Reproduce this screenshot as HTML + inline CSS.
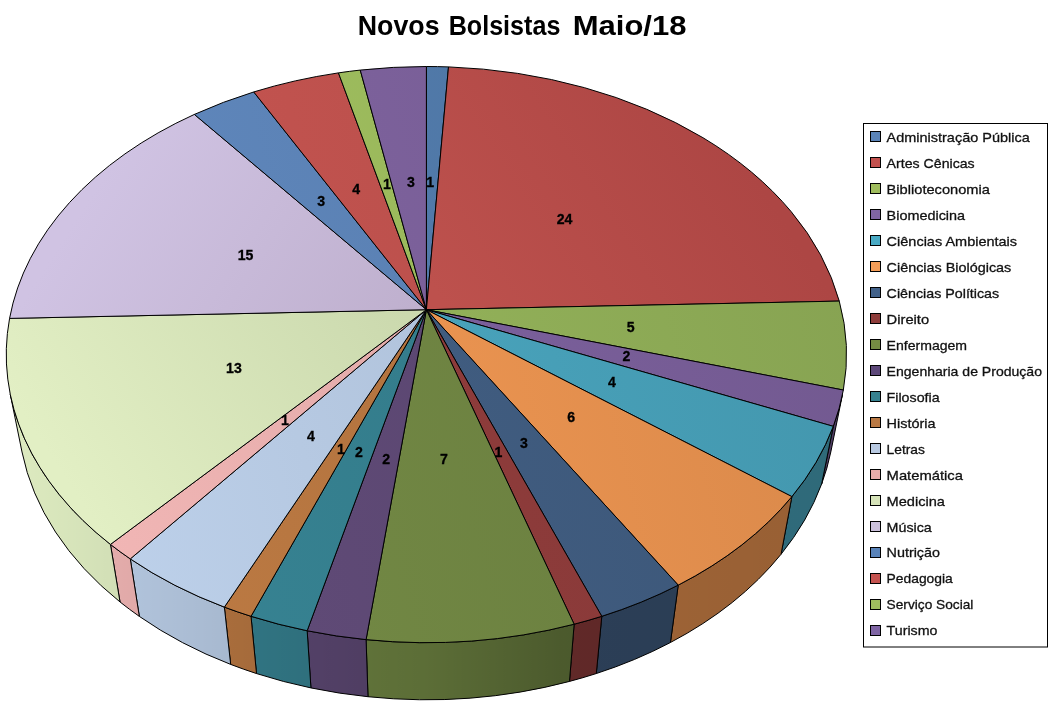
<!DOCTYPE html>
<html lang="pt-BR"><head><meta charset="utf-8"><title>Novos Bolsistas Maio/18</title>
<style>html,body{margin:0;padding:0;background:#fff}body{width:1051px;height:711px;position:relative;overflow:hidden}</style></head>
<body>
<svg width="1051" height="711" viewBox="0 0 1051 711" style="position:absolute;left:0;top:0">
<defs>
<linearGradient id="gs" gradientUnits="userSpaceOnUse" x1="7" y1="0" x2="847" y2="0">
<stop offset="0" stop-color="#000" stop-opacity="0.02"/><stop offset="0.23" stop-color="#000" stop-opacity="0.11"/><stop offset="0.5" stop-color="#000" stop-opacity="0.23"/><stop offset="0.66" stop-color="#000" stop-opacity="0.365"/><stop offset="1" stop-color="#000" stop-opacity="0.40"/>
</linearGradient>
</defs>
<defs><linearGradient id="s0" gradientUnits="userSpaceOnUse" x1="7" y1="460" x2="846" y2="250"><stop offset="0" stop-color="#5783B7"/><stop offset="1" stop-color="#4B719D"/></linearGradient>
<linearGradient id="s1" gradientUnits="userSpaceOnUse" x1="440" y1="300" x2="720" y2="120"><stop offset="0" stop-color="#BD514D"/><stop offset="1" stop-color="#AD4644"/></linearGradient>
<linearGradient id="s2" gradientUnits="userSpaceOnUse" x1="7" y1="460" x2="846" y2="250"><stop offset="0" stop-color="#9DBE5F"/><stop offset="1" stop-color="#87A352"/></linearGradient>
<linearGradient id="s3" gradientUnits="userSpaceOnUse" x1="7" y1="460" x2="846" y2="250"><stop offset="0" stop-color="#8467A8"/><stop offset="1" stop-color="#725990"/></linearGradient>
<linearGradient id="s4" gradientUnits="userSpaceOnUse" x1="7" y1="460" x2="846" y2="250"><stop offset="0" stop-color="#4EAFC9"/><stop offset="1" stop-color="#4396AD"/></linearGradient>
<linearGradient id="s5" gradientUnits="userSpaceOnUse" x1="7" y1="460" x2="846" y2="250"><stop offset="0" stop-color="#FB9E56"/><stop offset="1" stop-color="#D8884A"/></linearGradient>
<linearGradient id="s6" gradientUnits="userSpaceOnUse" x1="7" y1="460" x2="846" y2="250"><stop offset="0" stop-color="#456389"/><stop offset="1" stop-color="#3B5576"/></linearGradient>
<linearGradient id="s7" gradientUnits="userSpaceOnUse" x1="7" y1="460" x2="846" y2="250"><stop offset="0" stop-color="#98403F"/><stop offset="1" stop-color="#833736"/></linearGradient>
<linearGradient id="s8" gradientUnits="userSpaceOnUse" x1="7" y1="460" x2="846" y2="250"><stop offset="0" stop-color="#778E47"/><stop offset="1" stop-color="#667A3D"/></linearGradient>
<linearGradient id="s9" gradientUnits="userSpaceOnUse" x1="7" y1="460" x2="846" y2="250"><stop offset="0" stop-color="#634D7B"/><stop offset="1" stop-color="#55426A"/></linearGradient>
<linearGradient id="s10" gradientUnits="userSpaceOnUse" x1="7" y1="460" x2="846" y2="250"><stop offset="0" stop-color="#388696"/><stop offset="1" stop-color="#307381"/></linearGradient>
<linearGradient id="s11" gradientUnits="userSpaceOnUse" x1="7" y1="460" x2="846" y2="250"><stop offset="0" stop-color="#C07C44"/><stop offset="1" stop-color="#A56B3A"/></linearGradient>
<linearGradient id="s12" gradientUnits="userSpaceOnUse" x1="7" y1="460" x2="846" y2="250"><stop offset="0" stop-color="#BFD3ED"/><stop offset="1" stop-color="#A4B5CC"/></linearGradient>
<linearGradient id="s13" gradientUnits="userSpaceOnUse" x1="7" y1="460" x2="846" y2="250"><stop offset="0" stop-color="#F4B8B7"/><stop offset="1" stop-color="#D29E9D"/></linearGradient>
<linearGradient id="s14" gradientUnits="userSpaceOnUse" x1="96" y1="526" x2="410" y2="320"><stop offset="0" stop-color="#E2EFC4"/><stop offset="1" stop-color="#CBD9AE"/></linearGradient>
<linearGradient id="s15" gradientUnits="userSpaceOnUse" x1="120" y1="150" x2="400" y2="330"><stop offset="0" stop-color="#D0C3E3"/><stop offset="1" stop-color="#BFB0CE"/></linearGradient>
<linearGradient id="s16" gradientUnits="userSpaceOnUse" x1="7" y1="460" x2="846" y2="250"><stop offset="0" stop-color="#628BC2"/><stop offset="1" stop-color="#5478A7"/></linearGradient>
<linearGradient id="s17" gradientUnits="userSpaceOnUse" x1="7" y1="460" x2="846" y2="250"><stop offset="0" stop-color="#CC5753"/><stop offset="1" stop-color="#AF4B47"/></linearGradient>
<linearGradient id="s18" gradientUnits="userSpaceOnUse" x1="7" y1="460" x2="846" y2="250"><stop offset="0" stop-color="#A7C863"/><stop offset="1" stop-color="#90AC55"/></linearGradient>
<linearGradient id="s19" gradientUnits="userSpaceOnUse" x1="7" y1="460" x2="846" y2="250"><stop offset="0" stop-color="#8568A6"/><stop offset="1" stop-color="#72598F"/></linearGradient></defs>
<g id="walls">
<path d="M842.52,394.33 A420.15,288.05 0 0 1 833.29,426.33 L821.64,484.02 A408.56,288.82 0 0 0 830.80,451.98 Z" fill="#8467A8" stroke="#000" stroke-width="1" stroke-linejoin="round"/>
<path d="M842.52,394.33 A420.15,288.05 0 0 1 833.29,426.33 L821.64,484.02 A408.56,288.82 0 0 0 830.80,451.98 Z" fill="url(#gs)"/>
<path d="M833.29,426.33 A420.15,288.05 0 0 1 791.89,496.62 L781.05,554.27 A408.56,288.82 0 0 0 821.64,484.02 Z" fill="#4EAFC9" stroke="#000" stroke-width="1" stroke-linejoin="round"/>
<path d="M833.29,426.33 A420.15,288.05 0 0 1 791.89,496.62 L781.05,554.27 A408.56,288.82 0 0 0 821.64,484.02 Z" fill="url(#gs)"/>
<path d="M791.89,496.62 A420.15,288.05 0 0 1 678.22,585.13 L670.43,642.52 A408.56,288.82 0 0 0 781.05,554.27 Z" fill="#FB9E56" stroke="#000" stroke-width="1" stroke-linejoin="round"/>
<path d="M791.89,496.62 A420.15,288.05 0 0 1 678.22,585.13 L670.43,642.52 A408.56,288.82 0 0 0 781.05,554.27 Z" fill="url(#gs)"/>
<path d="M678.22,585.13 A420.15,288.05 0 0 1 601.79,616.30 L596.29,673.55 A408.56,288.82 0 0 0 670.43,642.52 Z" fill="#456389" stroke="#000" stroke-width="1" stroke-linejoin="round"/>
<path d="M678.22,585.13 A420.15,288.05 0 0 1 601.79,616.30 L596.29,673.55 A408.56,288.82 0 0 0 670.43,642.52 Z" fill="url(#gs)"/>
<path d="M601.79,616.30 A420.15,288.05 0 0 1 574.14,624.21 L569.48,681.41 A408.56,288.82 0 0 0 596.29,673.55 Z" fill="#98403F" stroke="#000" stroke-width="1" stroke-linejoin="round"/>
<path d="M601.79,616.30 A420.15,288.05 0 0 1 574.14,624.21 L569.48,681.41 A408.56,288.82 0 0 0 596.29,673.55 Z" fill="url(#gs)"/>
<path d="M574.14,624.21 A420.15,288.05 0 0 1 366.08,639.62 L367.99,696.73 A408.56,288.82 0 0 0 569.48,681.41 Z" fill="#778E47" stroke="#000" stroke-width="1" stroke-linejoin="round"/>
<path d="M574.14,624.21 A420.15,288.05 0 0 1 366.08,639.62 L367.99,696.73 A408.56,288.82 0 0 0 569.48,681.41 Z" fill="url(#gs)"/>
<path d="M366.08,639.62 A420.15,288.05 0 0 1 307.17,630.76 L310.93,687.92 A408.56,288.82 0 0 0 367.99,696.73 Z" fill="#634D7B" stroke="#000" stroke-width="1" stroke-linejoin="round"/>
<path d="M366.08,639.62 A420.15,288.05 0 0 1 307.17,630.76 L310.93,687.92 A408.56,288.82 0 0 0 367.99,696.73 Z" fill="url(#gs)"/>
<path d="M307.17,630.76 A420.15,288.05 0 0 1 251.01,616.30 L256.51,673.55 A408.56,288.82 0 0 0 310.93,687.92 Z" fill="#388696" stroke="#000" stroke-width="1" stroke-linejoin="round"/>
<path d="M307.17,630.76 A420.15,288.05 0 0 1 251.01,616.30 L256.51,673.55 A408.56,288.82 0 0 0 310.93,687.92 Z" fill="url(#gs)"/>
<path d="M251.01,616.30 A420.15,288.05 0 0 1 224.36,607.11 L230.67,664.40 A408.56,288.82 0 0 0 256.51,673.55 Z" fill="#C07C44" stroke="#000" stroke-width="1" stroke-linejoin="round"/>
<path d="M251.01,616.30 A420.15,288.05 0 0 1 224.36,607.11 L230.67,664.40 A408.56,288.82 0 0 0 256.51,673.55 Z" fill="url(#gs)"/>
<path d="M224.36,607.11 A420.15,288.05 0 0 1 130.29,558.90 L139.34,616.39 A408.56,288.82 0 0 0 230.67,664.40 Z" fill="#BFD3ED" stroke="#000" stroke-width="1" stroke-linejoin="round"/>
<path d="M224.36,607.11 A420.15,288.05 0 0 1 130.29,558.90 L139.34,616.39 A408.56,288.82 0 0 0 230.67,664.40 Z" fill="url(#gs)"/>
<path d="M130.29,558.90 A420.15,288.05 0 0 1 110.44,544.42 L120.03,601.96 A408.56,288.82 0 0 0 139.34,616.39 Z" fill="#F4B8B7" stroke="#000" stroke-width="1" stroke-linejoin="round"/>
<path d="M130.29,558.90 A420.15,288.05 0 0 1 110.44,544.42 L120.03,601.96 A408.56,288.82 0 0 0 139.34,616.39 Z" fill="url(#gs)"/>
<path d="M110.44,544.42 A420.15,288.05 0 0 1 10.28,394.33 L22.00,451.98 A408.56,288.82 0 0 0 120.03,601.96 Z" fill="#E2F0C4" stroke="#000" stroke-width="1" stroke-linejoin="round"/>
<path d="M110.44,544.42 A420.15,288.05 0 0 1 10.28,394.33 L22.00,451.98 A408.56,288.82 0 0 0 120.03,601.96 Z" fill="url(#gs)"/>
</g>
<g id="slices">
<path d="M426.40,309.70 L426.40,66.50 A420.15,288.05 0 0 1 448.51,66.90 Z" fill="url(#s0)" stroke="#000" stroke-width="1" stroke-linejoin="round"/>
<path d="M426.40,309.70 L448.51,66.90 A420.15,288.05 0 0 1 839.25,301.09 Z" fill="url(#s1)" stroke="#000" stroke-width="1" stroke-linejoin="round"/>
<path d="M426.40,309.70 L839.25,301.09 A420.15,288.05 0 0 1 843.35,390.04 Z" fill="url(#s2)" stroke="#000" stroke-width="1" stroke-linejoin="round"/>
<path d="M426.40,309.70 L843.35,390.04 A420.15,288.05 0 0 1 833.29,426.33 Z" fill="url(#s3)" stroke="#000" stroke-width="1" stroke-linejoin="round"/>
<path d="M426.40,309.70 L833.29,426.33 A420.15,288.05 0 0 1 791.89,496.62 Z" fill="url(#s4)" stroke="#000" stroke-width="1" stroke-linejoin="round"/>
<path d="M426.40,309.70 L791.89,496.62 A420.15,288.05 0 0 1 678.22,585.13 Z" fill="url(#s5)" stroke="#000" stroke-width="1" stroke-linejoin="round"/>
<path d="M426.40,309.70 L678.22,585.13 A420.15,288.05 0 0 1 601.79,616.30 Z" fill="url(#s6)" stroke="#000" stroke-width="1" stroke-linejoin="round"/>
<path d="M426.40,309.70 L601.79,616.30 A420.15,288.05 0 0 1 574.14,624.21 Z" fill="url(#s7)" stroke="#000" stroke-width="1" stroke-linejoin="round"/>
<path d="M426.40,309.70 L574.14,624.21 A420.15,288.05 0 0 1 366.08,639.62 Z" fill="url(#s8)" stroke="#000" stroke-width="1" stroke-linejoin="round"/>
<path d="M426.40,309.70 L366.08,639.62 A420.15,288.05 0 0 1 307.17,630.76 Z" fill="url(#s9)" stroke="#000" stroke-width="1" stroke-linejoin="round"/>
<path d="M426.40,309.70 L307.17,630.76 A420.15,288.05 0 0 1 251.01,616.30 Z" fill="url(#s10)" stroke="#000" stroke-width="1" stroke-linejoin="round"/>
<path d="M426.40,309.70 L251.01,616.30 A420.15,288.05 0 0 1 224.36,607.11 Z" fill="url(#s11)" stroke="#000" stroke-width="1" stroke-linejoin="round"/>
<path d="M426.40,309.70 L224.36,607.11 A420.15,288.05 0 0 1 130.29,558.90 Z" fill="url(#s12)" stroke="#000" stroke-width="1" stroke-linejoin="round"/>
<path d="M426.40,309.70 L130.29,558.90 A420.15,288.05 0 0 1 110.44,544.42 Z" fill="url(#s13)" stroke="#000" stroke-width="1" stroke-linejoin="round"/>
<path d="M426.40,309.70 L110.44,544.42 A420.15,288.05 0 0 1 9.57,318.40 Z" fill="url(#s14)" stroke="#000" stroke-width="1" stroke-linejoin="round"/>
<path d="M426.40,309.70 L9.57,318.40 A420.15,288.05 0 0 1 194.36,114.42 Z" fill="url(#s15)" stroke="#000" stroke-width="1" stroke-linejoin="round"/>
<path d="M426.40,309.70 L194.36,114.42 A420.15,288.05 0 0 1 253.74,91.95 Z" fill="url(#s16)" stroke="#000" stroke-width="1" stroke-linejoin="round"/>
<path d="M426.40,309.70 L253.74,91.95 A420.15,288.05 0 0 1 338.45,72.88 Z" fill="url(#s17)" stroke="#000" stroke-width="1" stroke-linejoin="round"/>
<path d="M426.40,309.70 L338.45,72.88 A420.15,288.05 0 0 1 360.26,70.09 Z" fill="url(#s18)" stroke="#000" stroke-width="1" stroke-linejoin="round"/>
<path d="M426.40,309.70 L360.26,70.09 A420.15,288.05 0 0 1 426.40,66.50 Z" fill="url(#s19)" stroke="#000" stroke-width="1" stroke-linejoin="round"/>
</g>
<g font-family="'Liberation Sans', sans-serif" font-weight="bold" font-size="14.1" text-anchor="middle" fill="#000" stroke="#000" stroke-width="0.3">
<text x="430.2" y="186.9">1</text>
<text x="564.6" y="224.4">24</text>
<text x="630.6" y="331.9">5</text>
<text x="626.3" y="360.9">2</text>
<text x="611.8" y="387.4">4</text>
<text x="571.2" y="421.9">6</text>
<text x="523.8" y="448.1">3</text>
<text x="498.4" y="456.9">1</text>
<text x="443.9" y="463.8">7</text>
<text x="386.2" y="463.8">2</text>
<text x="358.8" y="457.1">2</text>
<text x="340.9" y="453.7">1</text>
<text x="311.0" y="441.4">4</text>
<text x="284.9" y="425.2">1</text>
<text x="233.9" y="373.1">13</text>
<text x="245.5" y="260.1">15</text>
<text x="321.1" y="206.0">3</text>
<text x="356.2" y="194.1">4</text>
<text x="386.9" y="188.9">1</text>
<text x="410.9" y="187.1">3</text>
</g>
<text y="34.7" font-family="'Liberation Sans', sans-serif" font-weight="bold" font-size="26.8" fill="#000"><tspan x="357.8" textLength="81.8" lengthAdjust="spacingAndGlyphs">Novos</tspan> <tspan x="448.7" textLength="111.7" lengthAdjust="spacingAndGlyphs">Bolsistas</tspan> <tspan x="572.7" textLength="113.8" lengthAdjust="spacingAndGlyphs">Maio/18</tspan></text>
<rect x="863.5" y="123.5" width="184" height="523.5" fill="#fff" stroke="#000" stroke-width="1"/>
<g font-family="'Liberation Sans', sans-serif" font-size="13.5" fill="#111" stroke="#111" stroke-width="0.3">
<rect x="870.5" y="131.50" width="10" height="10" fill="#5B84B8" stroke="#000" stroke-width="1"/>
<text x="886.6" y="141.90" textLength="143.1" lengthAdjust="spacingAndGlyphs">Administração Pública</text>
<rect x="870.5" y="157.50" width="10" height="10" fill="#C2514E" stroke="#000" stroke-width="1"/>
<text x="886.6" y="167.87" textLength="88.1" lengthAdjust="spacingAndGlyphs">Artes Cênicas</text>
<rect x="870.5" y="183.50" width="10" height="10" fill="#9FBC5D" stroke="#000" stroke-width="1"/>
<text x="886.6" y="193.85" textLength="103.3" lengthAdjust="spacingAndGlyphs">Biblioteconomia</text>
<rect x="870.5" y="209.50" width="10" height="10" fill="#8065A3" stroke="#000" stroke-width="1"/>
<text x="886.6" y="219.82" textLength="78.5" lengthAdjust="spacingAndGlyphs">Biomedicina</text>
<rect x="870.5" y="235.50" width="10" height="10" fill="#49AAC4" stroke="#000" stroke-width="1"/>
<text x="886.6" y="245.80" textLength="130.5" lengthAdjust="spacingAndGlyphs">Ciências Ambientais</text>
<rect x="870.5" y="261.50" width="10" height="10" fill="#F49D58" stroke="#000" stroke-width="1"/>
<text x="886.6" y="271.77" textLength="124.7" lengthAdjust="spacingAndGlyphs">Ciências Biológicas</text>
<rect x="870.5" y="287.50" width="10" height="10" fill="#426189" stroke="#000" stroke-width="1"/>
<text x="886.6" y="297.74" textLength="112.6" lengthAdjust="spacingAndGlyphs">Ciências Políticas</text>
<rect x="870.5" y="313.50" width="10" height="10" fill="#8E3C3A" stroke="#000" stroke-width="1"/>
<text x="886.6" y="323.72" textLength="42.5" lengthAdjust="spacingAndGlyphs">Direito</text>
<rect x="870.5" y="339.50" width="10" height="10" fill="#748B43" stroke="#000" stroke-width="1"/>
<text x="886.6" y="349.69" textLength="80.5" lengthAdjust="spacingAndGlyphs">Enfermagem</text>
<rect x="870.5" y="365.50" width="10" height="10" fill="#5D4879" stroke="#000" stroke-width="1"/>
<text x="886.6" y="375.67" textLength="155.4" lengthAdjust="spacingAndGlyphs">Engenharia de Produção</text>
<rect x="870.5" y="391.50" width="10" height="10" fill="#36818F" stroke="#000" stroke-width="1"/>
<text x="886.6" y="401.64" textLength="53.0" lengthAdjust="spacingAndGlyphs">Filosofia</text>
<rect x="870.5" y="417.50" width="10" height="10" fill="#B97944" stroke="#000" stroke-width="1"/>
<text x="886.6" y="427.61" textLength="49.0" lengthAdjust="spacingAndGlyphs">História</text>
<rect x="870.5" y="443.50" width="10" height="10" fill="#B8C9E1" stroke="#000" stroke-width="1"/>
<text x="886.6" y="453.59" textLength="38.3" lengthAdjust="spacingAndGlyphs">Letras</text>
<rect x="870.5" y="469.50" width="10" height="10" fill="#E8ABAA" stroke="#000" stroke-width="1"/>
<text x="886.6" y="479.56" textLength="76.3" lengthAdjust="spacingAndGlyphs">Matemática</text>
<rect x="870.5" y="495.50" width="10" height="10" fill="#D6E3B9" stroke="#000" stroke-width="1"/>
<text x="886.6" y="505.54" textLength="58.4" lengthAdjust="spacingAndGlyphs">Medicina</text>
<rect x="870.5" y="521.50" width="10" height="10" fill="#CBC0DB" stroke="#000" stroke-width="1"/>
<text x="886.6" y="531.51" textLength="45.2" lengthAdjust="spacingAndGlyphs">Música</text>
<rect x="870.5" y="547.50" width="10" height="10" fill="#5983B9" stroke="#000" stroke-width="1"/>
<text x="886.6" y="557.48" textLength="53.4" lengthAdjust="spacingAndGlyphs">Nutrição</text>
<rect x="870.5" y="573.50" width="10" height="10" fill="#C4524F" stroke="#000" stroke-width="1"/>
<text x="886.6" y="583.46" textLength="66.2" lengthAdjust="spacingAndGlyphs">Pedagogia</text>
<rect x="870.5" y="599.50" width="10" height="10" fill="#9FBC5E" stroke="#000" stroke-width="1"/>
<text x="886.6" y="609.43" textLength="86.8" lengthAdjust="spacingAndGlyphs">Serviço Social</text>
<rect x="870.5" y="625.50" width="10" height="10" fill="#7F65A4" stroke="#000" stroke-width="1"/>
<text x="886.6" y="635.41" textLength="50.8" lengthAdjust="spacingAndGlyphs">Turismo</text>
</g>
</svg>
</body></html>
